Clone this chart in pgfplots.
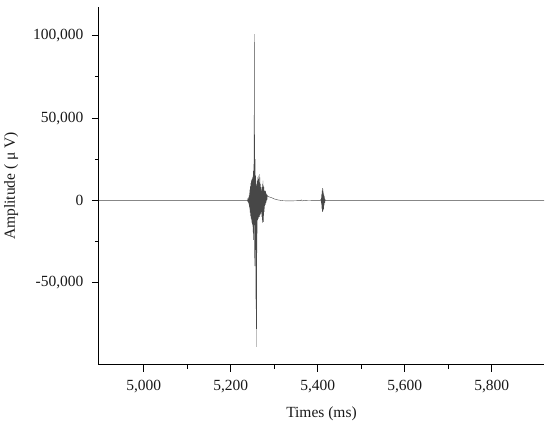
\documentclass[border=0pt]{standalone}
\usepackage{pgfplots}
\pgfplotsset{compat=1.18}
\usepackage{fontspec}
\setmainfont{Liberation Serif}

\begin{document}
\begin{tikzpicture}
\begin{axis}[
scale only axis,
width=445pt,
height=358pt,
xmin=4897, xmax=5920,
ymin=-100000, ymax=117500,
axis x line=bottom,
axis y line=left,
axis line style={-, line width=1pt, black},
tick align=outside,
major tick length=7pt,
minor tick length=4pt,
tick style={line width=0.9pt, black},
xtick={5000,5200,5400,5600,5800},
ytick={-50000,0,50000,100000},
minor x tick num=1,
minor y tick num=1,
scaled x ticks=false,
scaled y ticks=false,
/pgf/number format/assume math mode=true,
/pgf/number format/fixed,
/pgf/number format/1000 sep={,},
tick label style={font=\fontsize{15.5}{18}\selectfont, black!90},
label style={font=\fontsize{15.5}{18}\selectfont, black!90},
xticklabel style={yshift=-5pt},
yticklabel style={xshift=-5pt},
xlabel={Times (ms)},
ylabel={Amplitude ( μ V)},
xlabel style={yshift=-7pt},
ylabel style={yshift=8pt},
clip=true,
]
\addplot[line width=0.4pt, color=black!72] coordinates {
(4897,0) (5000,0) (5100,0) (5200,0) (5236,0)
(5238,200) (5238.5,-300) (5239,500) (5239.5,-700) (5240,1000) (5240.5,-1400)
(5241,1800) (5241.5,-2400) (5242,3000) (5242.5,-3800) (5243,4500) (5243.5,-5500)
(5244,6500) (5244.5,-7500) (5245,8500) (5245.5,-9500) (5246,10500) (5246.5,-11000)
(5247,11500) (5247.5,-12000) (5248,12500) (5248.5,-13500) (5249,13000) (5249.5,-14500)
(5250,14000) (5250.5,-16000) (5251,15000) (5251.5,-20000) (5252,18000) (5252.5,-24000)
(5253,22000) (5253.5,-15000) (5254,101000) (5254.5,-35000) (5255,40000) (5255.5,-40000)
(5256,25000) (5256.5,-30000) (5257,15000) (5257.5,-60000) (5258,12000) (5258.5,-89000)
(5259,10000) (5259.5,-78000) (5260,9000) (5260.5,-20000) (5261,12000) (5261.5,-12000)
(5262,14000) (5262.5,-10000) (5263,15000) (5263.5,-11000) (5264,13000) (5264.5,-10000)
(5265,11000) (5265.5,-9000) (5266,16000) (5266.5,-10000) (5267,14000) (5267.5,-9000)
(5268,10000) (5268.5,-8000) (5269,8000) (5269.5,-7000) (5270,7000) (5270.5,-8000)
(5271,6000) (5271.5,-10000) (5272,8000) (5272.5,-13500) (5273,10000) (5273.5,-12000)
(5274,12000) (5274.5,-9000) (5275,9000) (5275.5,-13000) (5276,8000) (5276.5,-7000)
(5277,6000) (5277.5,-5000) (5278,5000) (5278.5,-3000) (5279,6000) (5279.5,-2500)
(5280,5500) (5280.5,-1500) (5281,4500) (5281.5,-1000) (5282,4000) (5282.5,0)
(5283,3500) (5283.5,500) (5284,3000) (5285,2500) (5287,2200) (5290,2000)
(5295,1500) (5300,900) (5305,500) (5310,200) (5315,0) (5320,-200)
(5330,-300) (5340,-300) (5350,-200) (5360,-100) (5362,300) (5364,-300) (5370,0)
(5380,100) (5390,0) (5405,0)
(5407,500) (5407.5,-800) (5408,1500) (5408.5,-2500) (5409,4000) (5409.5,-5000)
(5410,6000) (5410.5,-7000) (5411,7500) (5411.5,-6500) (5412,7000) (5412.5,-5000)
(5413,4500) (5413.5,-5500) (5414,3500) (5414.5,-3000) (5415,2500) (5415.5,-1500)
(5416,1000) (5416.5,-600) (5417,300) (5418,0)
(5500,0) (5600,0) (5700,0) (5800,0) (5920,0)
};
\end{axis}
\path (current axis.south west) ++(-99pt,-59pt) rectangle ++(550pt,424pt);
\end{tikzpicture}
\end{document}
